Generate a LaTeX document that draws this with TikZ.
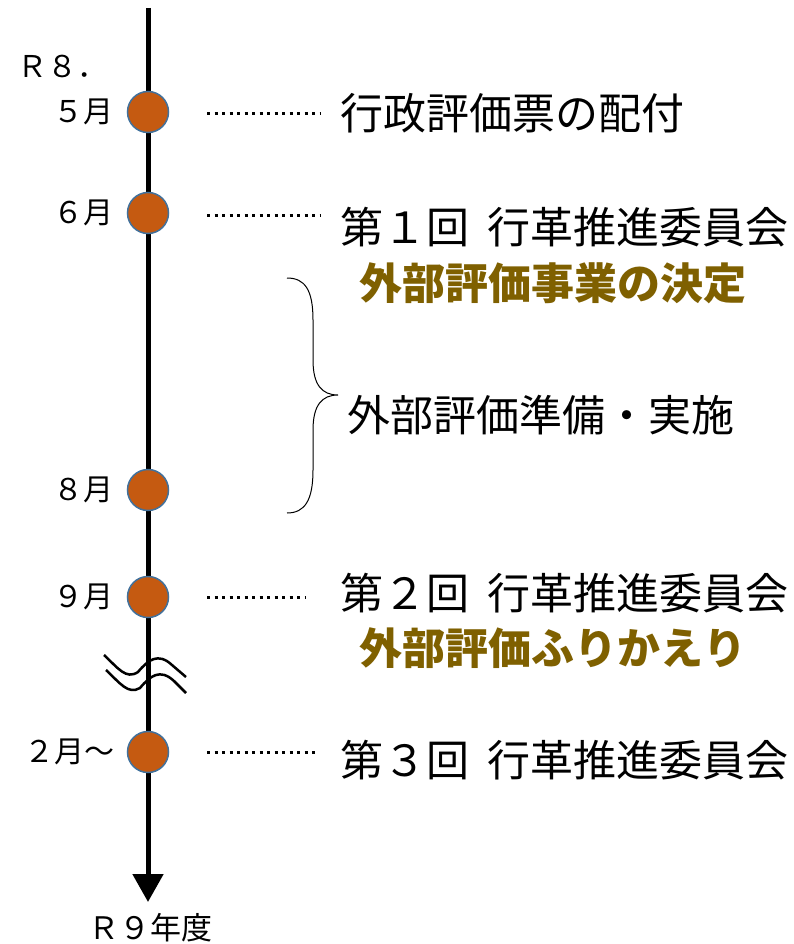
\documentclass[tikz,border=0pt]{standalone}
\usepackage{fontspec}
\setmainfont{Noto Sans CJK JP}
\usetikzlibrary{arrows.meta}
\definecolor{dot}{HTML}{C55A11}
\definecolor{rim}{HTML}{41719C}
\definecolor{gold}{HTML}{7F6000}
\tikzset{
  ev/.style={circle,fill=dot,draw=rim,line width=1.5pt,minimum size=41pt,inner sep=0pt},
  mon/.style={font=\fontsize{30}{30}\selectfont,anchor=east,inner sep=0pt},
  big/.style={font=\fontsize{43}{43}\selectfont,anchor=west,inner sep=0pt},
  hl/.style={font=\fontsize{43}{43}\selectfont\bfseries,text=gold,anchor=west,inner sep=0pt},
  lead/.style={line width=3pt,dash pattern=on 3pt off 4.5pt},
}
\begin{document}
\begin{tikzpicture}[x=1pt,y=-1pt]
\useasboundingbox (0,0) rectangle (794,944);
% waves
\draw[line width=2.5pt] (104,655) .. controls (118,668) and (126,680) .. (138,672) .. controls (148,660) and (158,652) .. (172,665) -- (186,677);
\draw[line width=2.5pt] (106,670) .. controls (120,683) and (128,695) .. (140,688) .. controls (150,676) and (160,668) .. (174,681) -- (186,693);
% axis
\coordinate (top) at (148,8);
\coordinate (bot) at (148,902);
\draw[line width=5pt,-{Triangle[width=30pt,length=28pt]}] (top) -- (bot);
\node[ev] (e1) at (148,112) {};
\node[ev] (e2) at (148,213) {};
\node[ev] (e3) at (148,490) {};
\node[ev] (e4) at (148,597) {};
\node[ev] (e5) at (148,752) {};
\node[font=\fontsize{30}{30}\selectfont,anchor=west,inner sep=0pt] (r8) at (17,66) {Ｒ８．};
\node[mon] (m1) at (114,112) {５月};
\node[mon] (m2) at (114,213) {６月};
\node[mon] (m3) at (114,490) {８月};
\node[mon] (m4) at (114,597) {９月};
\node[mon] (m5) at (115,752) {２月～};
\node[font=\fontsize{31}{31}\selectfont,inner sep=0pt] (r9) at (150,928) {Ｒ９年度};
% texts
\node[big] (t1) at (340,113) {行政評価票の配付};
\node[big] (t2) at (340,227) {第１回\hspace{18pt}行革推進委員会};
\node[hl] (t3) at (359,283) {外部評価事業の決定};
\node[big] (t4) at (347,415) {外部評価準備・実施};
\node[big] (t5) at (340,593) {第２回\hspace{18pt}行革推進委員会};
\node[hl] (t6) at (359,648) {外部評価ふりかえり};
\node[big] (t7) at (340,760) {第３回\hspace{18pt}行革推進委員会};
% leaders
\coordinate (d1a) at (207,114); \coordinate (d1b) at (320,114);
\coordinate (d2a) at (207,215); \coordinate (d2b) at (320,215);
\coordinate (d4a) at (207,597); \coordinate (d4b) at (305,597);
\coordinate (d5a) at (207,752); \coordinate (d5b) at (315,752);
\draw[lead] (d1a) -- (d1b);
\draw[lead] (d2a) -- (d2b);
\draw[lead] (d4a) -- (d4b);
\draw[lead] (d5a) -- (d5b);
% brace
\draw[line width=1pt] (287,278) .. controls (305,278) and (313,290) .. (313,320) -- (313,360) .. controls (313,385) and (322,395) .. (338,395)
  .. controls (322,395) and (313,405) .. (313,430) -- (313,470) .. controls (313,500) and (305,513) .. (287,513);
\end{tikzpicture}
\end{document}
